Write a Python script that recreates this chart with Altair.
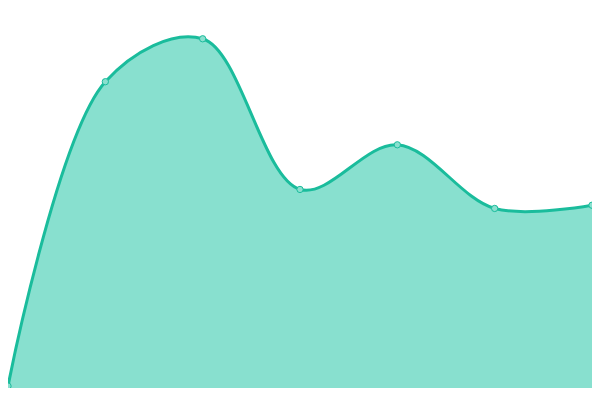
import altair as alt
import pandas as pd

xs = [0, 1, 2, 3, 4, 5, 6]
values = [0.5, 80.6, 91.9, 52.25, 64.0, 47.25, 48.1]

df = pd.DataFrame({"x": xs, "v": values})

xenc = alt.X("x:Q", scale=alt.Scale(domain=[0, 6], nice=False, zero=False), axis=None)
yenc = alt.Y("v:Q", scale=alt.Scale(domain=[0, 100], nice=False), axis=None)

base = alt.Chart(df)
area = base.mark_area(interpolate="catmull-rom", color="#88e0cf", opacity=1, clip=True).encode(x=xenc, y=yenc)
line = base.mark_line(interpolate="catmull-rom", color="#1abc9c", strokeWidth=3, clip=True).encode(x=xenc, y=yenc)
pts = base.mark_point(filled=True, fill="#8ae0cf", stroke="#1abc9c", strokeWidth=1, opacity=1, size=40, clip=True).encode(x=xenc, y=yenc)

chart = (area + line + pts).properties(width=584, height=380, padding=0, background="white").configure_view(stroke=None)
chart.save("out.html", embed_options={"renderer": "svg", "actions": False})
